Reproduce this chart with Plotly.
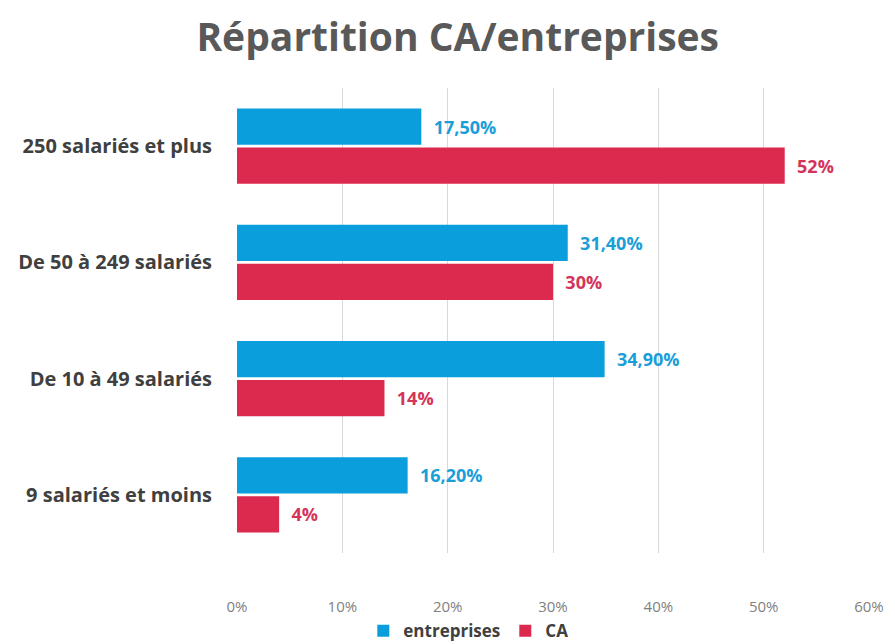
import plotly.graph_objects as go

categories = ["250 salariés et plus", "De 50 à 249 salariés", "De 10 à 49 salariés", "9 salariés et moins"]
entreprises = [17.5, 31.4, 34.9, 16.2]
ca = [52, 30, 14, 4]
entreprises_labels = ["17,50%", "31,40%", "34,90%", "16,20%"]
ca_labels = ["52%", "30%", "14%", "4%"]
tick_vals = [0, 10, 20, 30, 40, 50, 60]
tick_text = ["0%", "10%", "20%", "30%", "40%", "50%", "60%"]

BLUE = "#0a9fdc"
RED = "#dc2a4e"
FONT = "Open Sans"
PAD = "\u00a0\u00a0"

fig = go.Figure()
fig.add_trace(go.Bar(
    y=categories, x=entreprises, orientation="h", name="entreprises",
    marker=dict(color=BLUE, line=dict(width=0)),
    text=[PAD + t for t in entreprises_labels], textposition="outside", cliponaxis=False,
    textfont=dict(family=FONT, size=18, color="#1a9ed8", weight="bold"),
))
fig.add_trace(go.Bar(
    y=categories, x=ca, orientation="h", name="CA",
    marker=dict(color=RED, line=dict(width=0)),
    text=[PAD + t for t in ca_labels], textposition="outside", cliponaxis=False,
    textfont=dict(family=FONT, size=18, color="#d5345a", weight="bold"),
))

fig.update_layout(
    width=887, height=636,
    paper_bgcolor="white", plot_bgcolor="white",
    margin=dict(l=229, r=26, t=80, b=91),
    barmode="group", bargap=0.33, bargroupgap=0.07,
    title=dict(text="<b>Répartition CA/entreprises</b>", x=0.507, xanchor="center",
               y=0.954, yanchor="middle",
               font=dict(family=FONT, size=39, color="#595959")),
    showlegend=True,
    legend=dict(orientation="h", x=0.366, xanchor="center",
                yref="container", y=0.02, yanchor="middle",
                bgcolor="rgba(0,0,0,0)",
                font=dict(family=FONT, size=17, color="#404040", weight="bold"),
                itemwidth=30, traceorder="normal"),
    uniformtext=dict(mode=False),
)
fig.update_xaxes(
    range=[0, 60], tickvals=tick_vals, ticktext=tick_text,
    showgrid=True, gridcolor="#d9d9d9", gridwidth=1,
    zeroline=False, showline=False, automargin=False,
    ticks="outside", ticklen=40, tickcolor="rgba(0,0,0,0)",
    tickfont=dict(family=FONT, size=15, color="#7f7f7f"),
)
fig.update_yaxes(
    range=[3.5, -0.5],
    showgrid=False, zeroline=False, showline=False, automargin=False,
    ticks="outside", ticklen=20, tickcolor="rgba(0,0,0,0)",
    tickfont=dict(family=FONT, size=20, color="#404040", weight="bold"),
)

fig.write_html("out.html")
